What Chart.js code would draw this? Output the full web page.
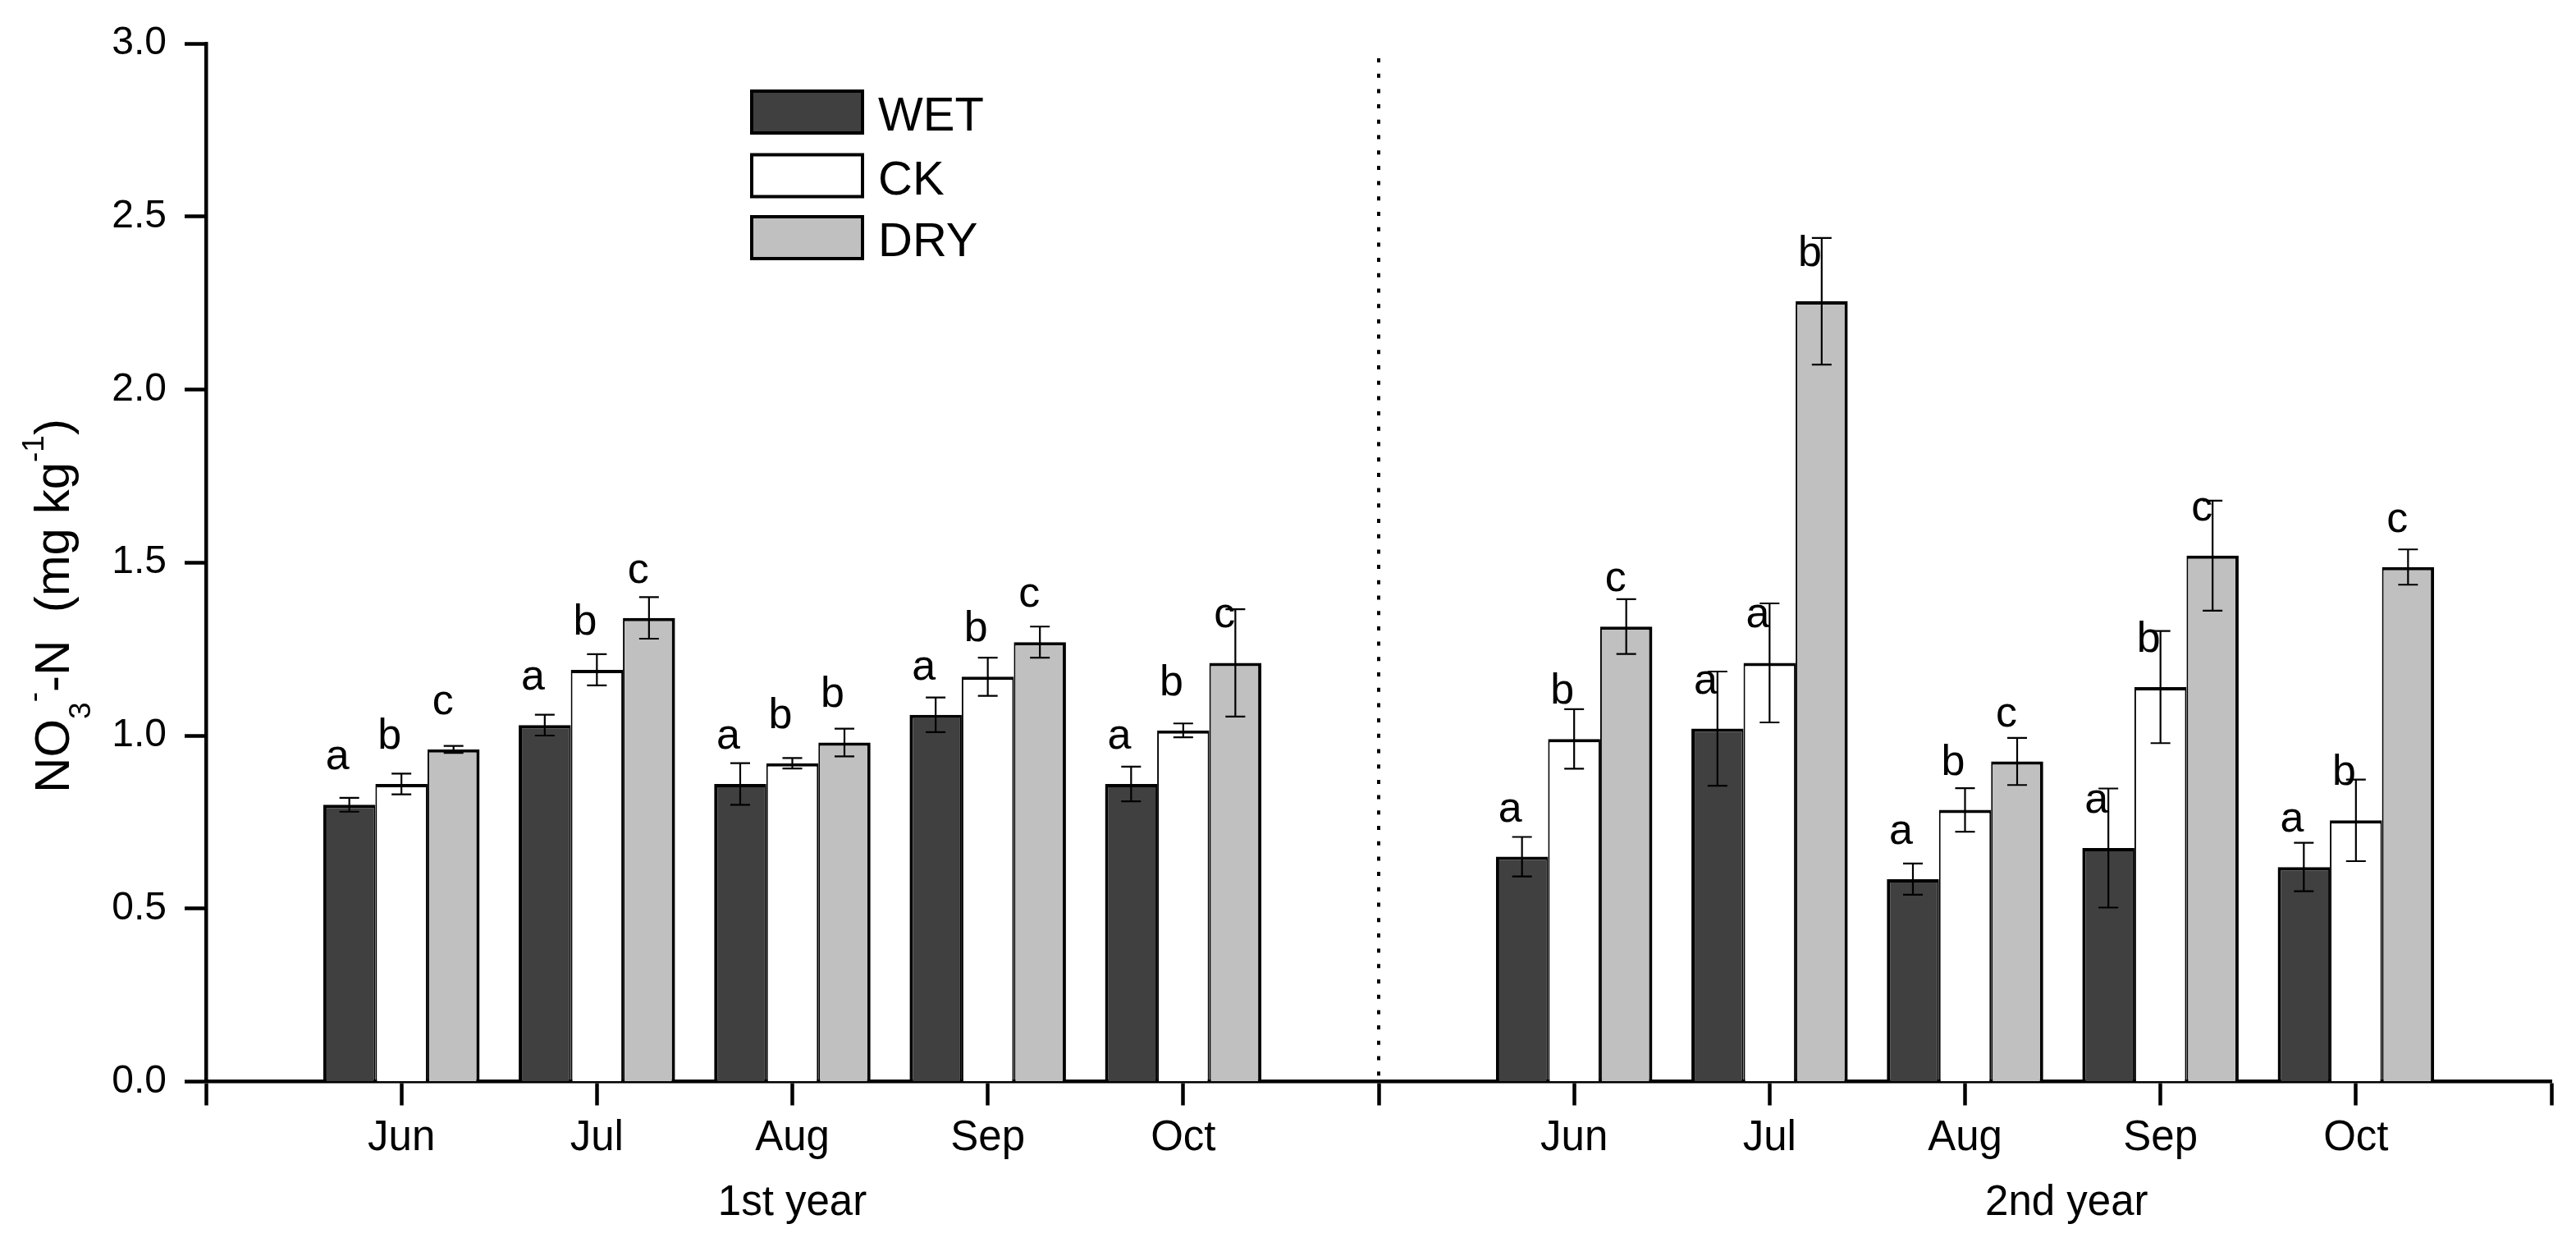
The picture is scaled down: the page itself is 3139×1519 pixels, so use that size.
<!DOCTYPE html>
<html>
<head>
<meta charset="utf-8">
<script src="https://cdn.jsdelivr.net/npm/chart.js@4.4.0/dist/chart.umd.min.js"></script>
<style>
html,body{margin:0;padding:0;background:#ffffff;}
#wrap{width:3139px;height:1519px;position:relative;}
canvas{display:block;}
</style>
</head>
<body>
<div id="wrap"><canvas id="c" width="3139" height="1519"></canvas></div>
<script>
// ---------- data ----------
const months = ['Jun', 'Jul', 'Aug', 'Sep', 'Oct'];
const yearLabels = ['1st year', '2nd year'];
const seriesNames = ['WET', 'CK', 'DRY'];
const seriesColors = ['#404040', '#ffffff', '#c0c0c0'];
const yTicks = [0, 0.5, 1.0, 1.5, 2.0, 2.5, 3.0];

const wet1 = [0.80, 1.03, 0.86, 1.06, 0.86];
const ck1  = [0.86, 1.19, 0.92, 1.17, 1.015];
const dry1 = [0.96, 1.34, 0.98, 1.27, 1.21];
const wet2 = [0.65, 1.02, 0.585, 0.675, 0.62];
const ck2  = [0.99, 1.21, 0.785, 1.14, 0.755];
const dry2 = [1.315, 2.255, 0.925, 1.52, 1.487];

const wetErr1 = [0.02, 0.03, 0.06, 0.05, 0.05];
const ckErr1  = [0.03, 0.045, 0.015, 0.055, 0.02];
const dryErr1 = [0.01, 0.06, 0.04, 0.045, 0.155];
const wetErr2 = [0.057, 0.165, 0.045, 0.172, 0.07];
const ckErr2  = [0.086, 0.172, 0.063, 0.162, 0.118];
const dryErr2 = [0.079, 0.183, 0.068, 0.159, 0.051];

const wetLet1 = ['a', 'a', 'a', 'a', 'a'];
const ckLet1  = ['b', 'b', 'b', 'b', 'b'];
const dryLet1 = ['c', 'c', 'b', 'c', 'c'];
const wetLet2 = ['a', 'a', 'a', 'a', 'a'];
const ckLet2  = ['b', 'a', 'b', 'b', 'b'];
const dryLet2 = ['c', 'b', 'c', 'c', 'c'];

// ---------- build (13 slots: blank | year1 | blank | year2 | blank) ----------
const join = (a, b, blank) => [blank, ...a, blank, ...b, blank];
const labels = join(months, months, '');
const values = [join(wet1, wet2, null), join(ck1, ck2, null), join(dry1, dry2, null)];
const errors = [join(wetErr1, wetErr2, null), join(ckErr1, ckErr2, null), join(dryErr1, dryErr2, null)];
const letters = [join(wetLet1, wetLet2, ''), join(ckLet1, ckLet2, ''), join(dryLet1, dryLet2, '')];
const dividerIndex = 6;
const yearCenters = [3, 9.52];

const FONT = "'Liberation Sans', Arial, sans-serif";
Chart.defaults.font.family = FONT;
Chart.defaults.color = '#000';

const borderSets = [
  {top: 4, left: 4, right: 2, bottom: 0},
  {top: 4, left: 2, right: 2, bottom: 0},
  {top: 4, left: 2, right: 4, bottom: 0}
];

const decorPlugin = {
  id: 'decor',
  afterDatasetsDraw(chart) {
    const ctx = chart.ctx;
    const xs = chart.scales.x, ys = chart.scales.y;
    const area = chart.chartArea;
    ctx.save();
    // divider
    const dx = xs.getPixelForValue(dividerIndex);
    ctx.strokeStyle = '#000';
    ctx.lineWidth = 4;
    ctx.setLineDash([5, 13.7]);
    ctx.beginPath();
    ctx.moveTo(dx, area.top + 18);
    ctx.lineTo(dx, area.bottom);
    ctx.stroke();
    ctx.setLineDash([]);
    // error bars + letters
    for (let d = 0; d < values.length; d++) {
      const meta = chart.getDatasetMeta(d);
      for (let j = 0; j < labels.length; j++) {
        const v = values[d][j];
        if (v === null) continue;
        const bar = meta.data[j];
        const e = errors[d][j];
        const x = bar.x;
        const yt = ys.getPixelForValue(v + e);
        const yb = ys.getPixelForValue(v - e);
        ctx.strokeStyle = '#000';
        ctx.lineWidth = 2.2;
        ctx.beginPath();
        ctx.moveTo(x, yt); ctx.lineTo(x, yb);
        ctx.moveTo(x - 12, yt); ctx.lineTo(x + 12, yt);
        ctx.moveTo(x - 12, yb); ctx.lineTo(x + 12, yb);
        ctx.stroke();
        ctx.fillStyle = '#000';
        ctx.font = '52px ' + FONT;
        ctx.textAlign = 'right';
        ctx.textBaseline = 'alphabetic';
        ctx.fillText(letters[d][j], x, ys.getPixelForValue(v) - 43);
      }
    }
    ctx.restore();
  },
  afterDraw(chart) {
    const ctx = chart.ctx;
    const area = chart.chartArea;
    ctx.save();
    ctx.fillStyle = '#000';
    // year labels
    ctx.font = '51px ' + FONT;
    ctx.textAlign = 'center';
    ctx.textBaseline = 'alphabetic';
    const span = labels.length - 1;
    yearLabels.forEach((t, i) => {
      const x = area.left + (area.right - area.left) * yearCenters[i] / span;
      ctx.fillText(t, x, 1480);
    });
    // legend
    const lx = 914, lw = 139, lh = 55, tops = [109, 186.5, 262];
    seriesNames.forEach((n, i) => {
      ctx.fillStyle = '#000';
      ctx.fillRect(lx, tops[i], lw, lh);
      ctx.fillStyle = seriesColors[i];
      ctx.fillRect(lx + 4, tops[i] + 4, lw - 8, lh - 8);
      ctx.fillStyle = '#000';
      ctx.font = '58px ' + FONT;
      ctx.textAlign = 'left';
      ctx.fillText(n, 1070, tops[i] + 50);
    });
    // y-axis title with sub/superscripts
    const segs = [
      {t: 'NO', s: 60, dy: 0},
      {t: '3', s: 37, dy: 26},
      {t: '-', s: 37, dy: -31},
      {t: '-N  (mg kg', s: 60, dy: 0},
      {t: '-1', s: 37, dy: -31},
      {t: ')', s: 60, dy: 0}
    ];
    let total = 0;
    segs.forEach(sg => { ctx.font = sg.s + 'px ' + FONT; sg.w = ctx.measureText(sg.t).width; total += sg.w; });
    ctx.translate(84, 738);
    ctx.rotate(-Math.PI / 2);
    ctx.textAlign = 'left';
    let px = -total / 2;
    segs.forEach(sg => {
      ctx.font = sg.s + 'px ' + FONT;
      ctx.fillText(sg.t, px, sg.dy);
      px += sg.w;
    });
    ctx.restore();
  }
};

new Chart(document.getElementById('c'), {
  type: 'bar',
  data: {
    labels: labels,
    datasets: seriesNames.map((n, i) => ({
      label: n,
      data: values[i],
      backgroundColor: seriesColors[i],
      borderColor: '#000',
      borderWidth: borderSets[i],
      borderSkipped: false,
      categoryPercentage: 0.8,
      barPercentage: 1.0
    }))
  },
  options: {
    responsive: false,
    animation: false,
    devicePixelRatio: 1,
    layout: {padding: {left: 0, right: 30, top: 53, bottom: 0}},
    plugins: {legend: {display: false}, tooltip: {enabled: false}, title: {display: false}},
    scales: {
      x: {
        type: 'category',
        offset: false,
        grid: {display: true, offset: false, drawOnChartArea: false, drawTicks: true, tickLength: 29, tickWidth: 4.5, tickColor: '#000'},
        border: {display: true, color: '#000', width: 4.5},
        ticks: {autoSkip: false, maxRotation: 0, minRotation: 0, color: '#000', font: {size: 51, family: FONT}, padding: 10},
        afterFit(s) { s.height = 1519 - 1317.5; }
      },
      y: {
        min: 0, max: 3,
        afterBuildTicks(s) { s.ticks = yTicks.map(v => ({value: v})); },
        grid: {display: true, drawOnChartArea: false, drawTicks: true, tickLength: 26, tickWidth: 4.5, tickColor: '#000'},
        border: {display: true, color: '#000', width: 4.5},
        ticks: {color: '#000', font: {size: 48, family: FONT}, padding: 22, callback: v => Number(v).toFixed(1)},
        afterFit(s) { s.width = 251; }
      }
    }
  },
  plugins: [decorPlugin]
});
</script>
</body>
</html>
